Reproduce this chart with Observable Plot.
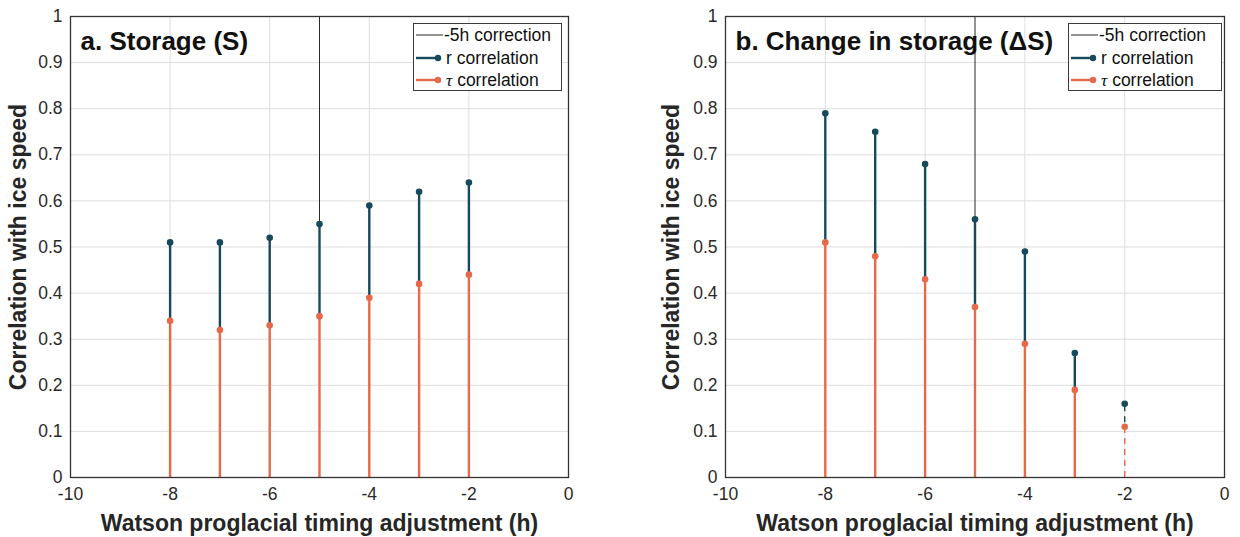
<!DOCTYPE html>
<html><head><meta charset="utf-8">
<script src="https://cdn.jsdelivr.net/npm/d3@7"></script>
<script src="https://cdn.jsdelivr.net/npm/@observablehq/plot@0.6"></script>
<style>
html,body{margin:0;padding:0;background:#fff;}
#wrap{position:relative;width:1240px;height:537px;overflow:hidden;font-family:"Liberation Sans",Arial,Helvetica,sans-serif;}
.panel{position:absolute;top:0;width:620px;height:537px;}
.panel svg{font-family:"Liberation Sans",Arial,sans-serif;overflow:visible;}
.panel g[aria-label="y-axis label"] text,.panel g[aria-label="x-axis label"] text{font-size:23px;font-weight:bold;fill:#262626;}
.panel g[aria-label="y-axis tick label"] text,.panel g[aria-label="x-axis tick label"] text{font-size:17.5px;fill:#2a2a2a;}
.legend{position:absolute;top:23px;height:68px;border:1.3px solid #3a3a3a;background:#fff;box-sizing:border-box;font-size:17.5px;color:#111;}
.legend .row{position:absolute;left:0;height:22px;line-height:22px;white-space:nowrap;}
.legend svg{position:absolute;left:0;top:0;}
.legend span{position:absolute;left:31px;top:0;}
</style>
</head><body>
<div id="wrap"></div>
<script>
// ---- data ----
const hours = [-8, -7, -6, -5, -4, -3, -2];
const rStorage   = [0.51, 0.51, 0.52, 0.55, 0.59, 0.62, 0.64];
const tauStorage = [0.34, 0.32, 0.33, 0.35, 0.39, 0.42, 0.44];
const rChange    = [0.79, 0.75, 0.68, 0.56, 0.49, 0.27, 0.16];
const tauChange  = [0.51, 0.48, 0.43, 0.37, 0.29, 0.19, 0.11];
const dashedStorage = [false, false, false, false, false, false, false];
const dashedChange  = [false, false, false, false, false, false, true];
const correctionHour = -5;
const xTicks = [-10, -8, -6, -4, -2, 0];
const yTicks = [0, 0.1, 0.2, 0.3, 0.4, 0.5, 0.6, 0.7, 0.8, 0.9, 1];
const panelTitles = ["a. Storage (S)", "b. Change in storage (\u0394S)"];
const legendLabels = ["-5h correction", "r correlation", "\u03c4 correlation"];
const xLabel = "Watson proglacial timing adjustment (h)";
const yLabel = "Correlation with ice speed";

const teal = "#17495d";
const orange = "#e8684a";

function makePanel(title, r, tau, dashed, layout) {
  const rows = hours.map((h, i) => ({h, r: r[i], tau: tau[i], dashed: dashed[i]}));
  const solid = rows.filter(d => !d.dashed);
  const dash = rows.filter(d => d.dashed);
  return Plot.plot({
    width: 620, height: 537,
    marginLeft: layout.ml, marginRight: layout.mr, marginTop: 16, marginBottom: 60,
    x: {domain: [-10, 0]},
    y: {domain: [0, 1]},
    marks: [
      Plot.gridX(xTicks, {stroke: "#dedede", strokeOpacity: 1, strokeWidth: 1}),
      Plot.gridY(yTicks, {stroke: "#dedede", strokeOpacity: 1, strokeWidth: 1}),
      Plot.axisX(xTicks, {tickSize: 0, tickPadding: 10, tickFormat: d => String(d), label: xLabel, labelAnchor: "center", labelArrow: "none", labelOffset: 53}),
      Plot.axisY(yTicks, {tickSize: 0, tickPadding: 8, tickFormat: d => String(d), label: yLabel, labelAnchor: "center", labelArrow: "none", labelOffset: layout.lo}),
      Plot.text([title], {text: d => d, frameAnchor: "top-left", dx: 10, dy: 25, lineAnchor: "middle", textAnchor: "start", fontSize: 26, fontWeight: "bold", fill: "#111"}),
      Plot.ruleX([correctionHour], {stroke: "#111", strokeWidth: 0.9}),
      Plot.ruleX(solid, {x: "h", y1: 0, y2: "tau", stroke: orange, strokeWidth: 2.4}),
      Plot.ruleX(solid, {x: "h", y1: "tau", y2: "r", stroke: teal, strokeWidth: 2.4}),
      Plot.ruleX(dash, {x: "h", y1: 0, y2: "tau", stroke: orange, strokeWidth: 1.4, strokeDasharray: "6,5"}),
      Plot.ruleX(dash, {x: "h", y1: "tau", y2: "r", stroke: teal, strokeWidth: 1.4, strokeDasharray: "6,5", strokeDashoffset: -4}),
      Plot.dot(rows, {x: "h", y: "tau", r: 3.3, fill: orange, stroke: "none"}),
      Plot.dot(rows, {x: "h", y: "r", r: 3.3, fill: teal, stroke: "none"}),
      Plot.frame({stroke: "#333", strokeWidth: 1.3})
    ]
  });
}

function makeLegend(left, width) {
  const el = document.createElement("div");
  el.className = "legend";
  el.style.left = left + "px";
  el.style.width = width + "px";
  const tops = [0, 22.5, 44.5];
  const sw = [
    `<svg width="30" height="22"><line x1="2" y1="11" x2="29" y2="11" stroke="#111" stroke-width="0.9"/></svg>`,
    `<svg width="30" height="22"><line x1="2" y1="11" x2="24" y2="11" stroke="${teal}" stroke-width="2.4"/><circle cx="24" cy="11" r="3.2" fill="${teal}"/></svg>`,
    `<svg width="30" height="22"><line x1="2" y1="11" x2="24" y2="11" stroke="${orange}" stroke-width="2.4"/><circle cx="24" cy="11" r="3.2" fill="${orange}"/></svg>`
  ];
  const txt = [
    legendLabels[0],
    legendLabels[1],
    `<i style="font-family:'Liberation Serif','DejaVu Serif',serif">${legendLabels[2].charAt(0)}</i>${legendLabels[2].slice(1)}`
  ];
  tops.forEach((t, i) => {
    const row = document.createElement("div");
    row.className = "row";
    row.style.top = t + "px";
    row.style.width = width + "px";
    row.innerHTML = sw[i] + `<span style="left:${i === 0 ? 30 : 32}px">${txt[i]}</span>`;
    el.appendChild(row);
  });
  return el;
}

const wrap = document.getElementById("wrap");
const layouts = [
  {left: 0, ml: 70, mr: 52, lo: 61, legLeft: 413, legW: 149},
  {left: 620, ml: 105, mr: 16, lo: 63, legLeft: 1068, legW: 154}
];
const series = [[rStorage, tauStorage, dashedStorage], [rChange, tauChange, dashedChange]];
layouts.forEach((L, i) => {
  const div = document.createElement("div");
  div.className = "panel";
  div.style.left = L.left + "px";
  div.appendChild(makePanel(panelTitles[i], series[i][0], series[i][1], series[i][2], L));
  wrap.appendChild(div);
  wrap.appendChild(makeLegend(L.legLeft, L.legW));
});
</script>
</body></html>
